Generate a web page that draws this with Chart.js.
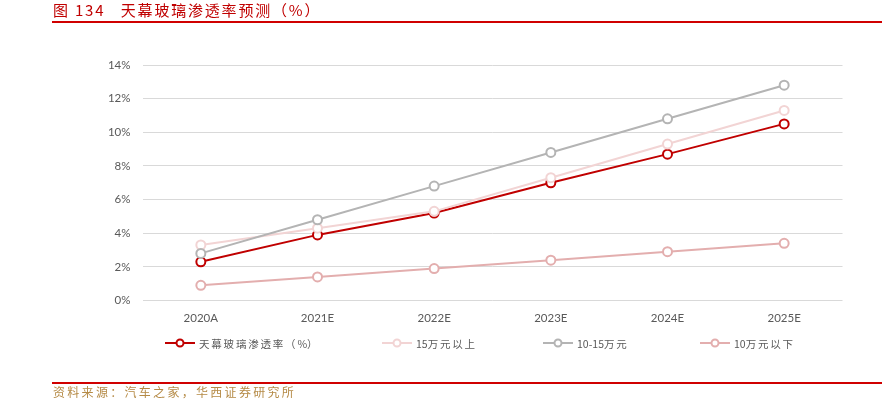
<!DOCTYPE html>
<html>
<head>
<meta charset="utf-8">
<script src="https://cdn.jsdelivr.net/npm/chart.js@4"></script>
<style>
  body { margin: 0; background: #fff; }
  #wrap { position: relative; width: 895px; height: 399px; overflow: hidden; }
  #title { position: absolute; left: 53px; top: 0px; font: 15px "Noto Sans CJK SC", sans-serif; color: #c00000; white-space: pre; line-height: 20px; letter-spacing: 1.8px; }
  .rule { position: absolute; left: 52px; width: 830px; height: 2px; background: #d00000; }
  #source { position: absolute; left: 53px; top: 384px; font: 12px "Noto Sans CJK SC", sans-serif; color: #b58a45; line-height: 15px; letter-spacing: 2.3px; }
</style>
</head>
<body>
<div id="wrap">
  <canvas id="c" width="895" height="399"></canvas>
  <div id="title">图 134   天幕玻璃渗透率预测（%）</div>
  <div class="rule" style="top:21px"></div>
  <div class="rule" style="top:382px"></div>
  <div id="source">资料来源：汽车之家，华西证券研究所</div>
</div>
<script>
// 数据
const years = ['2020A', '2021E', '2022E', '2023E', '2024E', '2025E'];
const total = [2.3, 3.9, 5.2, 7.0, 8.7, 10.5];      // 天幕玻璃渗透率
const above15 = [3.3, 4.3, 5.3, 7.3, 9.3, 11.3];    // 15万元以上
const mid10to15 = [2.8, 4.8, 6.8, 8.8, 10.8, 12.8]; // 10-15万元
const below10 = [0.9, 1.4, 1.9, 2.4, 2.9, 3.4];     // 10万元以下
const yTicks = [0, 2, 4, 6, 8, 10, 12, 14];

const names = ['天幕玻璃渗透率（%）', '15万元以上', '10-15万元', '10万元以下'];
const colors = ['#c00000', '#f2d4d4', '#b4b4b4', '#e3aeae'];
const series = [total, above15, mid10to15, below10];
const legendX = [165, 382, 543, 700];
const tickFont = { size: 11.5, family: 'Lato, "Liberation Sans", sans-serif' };

// 自定义图例（线 + 圆点），汉字加字距，数字不加
const legendPlugin = {
    id: 'lineLegend',
    afterDraw(chart) {
        const ctx = chart.ctx;
        const y = 343;
        ctx.save();
        names.forEach((n, i) => {
            const x = legendX[i];
            ctx.strokeStyle = colors[i];
            ctx.lineWidth = 2;
            ctx.beginPath();
            ctx.moveTo(x, y);
            ctx.lineTo(x + 30, y);
            ctx.stroke();
            ctx.beginPath();
            ctx.arc(x + 15, y, 3.5, 0, Math.PI * 2);
            ctx.fillStyle = '#fff';
            ctx.fill();
            ctx.stroke();
            ctx.fillStyle = '#595959';
            ctx.font = '10.5px "Noto Sans CJK SC", sans-serif';
            ctx.textBaseline = 'middle';
            let tx = x + 34;
            for (const ch of n) {
                ctx.fillText(ch, tx, y + 1);
                tx += ctx.measureText(ch).width + (/[\x00-\x7f]/.test(ch) ? 0 : 1.8);
            }
        });
        ctx.restore();
    }
};

new Chart(document.getElementById('c'), {
    type: 'line',
    data: {
        labels: years,
        datasets: series.map((d, i) => ({
            label: names[i],
            data: d,
            borderColor: colors[i],
            backgroundColor: '#fff',
            borderWidth: 2,
            pointRadius: 4.5,
            pointBorderWidth: 2,
            pointBackgroundColor: '#fff',
            pointBorderColor: colors[i],
            order: 3 - i
        })).reverse()
    },
    options: {
        responsive: false,
        animation: false,
        layout: { padding: { left: 100.5, right: 52.5, top: 65, bottom: 73.5 } },
        plugins: { legend: { display: false }, tooltip: { enabled: false } },
        scales: {
            x: {
                offset: true,
                grid: { display: false, drawTicks: false },
                border: { display: false },
                ticks: { color: '#595959', font: tickFont, padding: 11 },
                afterFit: s => { s.height = 25; }
            },
            y: {
                min: 0,
                max: 14,
                afterBuildTicks: s => { s.ticks = yTicks.map(v => ({ value: v })); },
                grid: { color: '#d9d9d9', lineWidth: 1, drawTicks: false },
                border: { display: false },
                ticks: { color: '#595959', font: tickFont, padding: 12, callback: v => v + '%' },
                afterFit: s => { s.width = 42; }
            }
        }
    },
    plugins: [legendPlugin]
});
</script>
</body>
</html>
